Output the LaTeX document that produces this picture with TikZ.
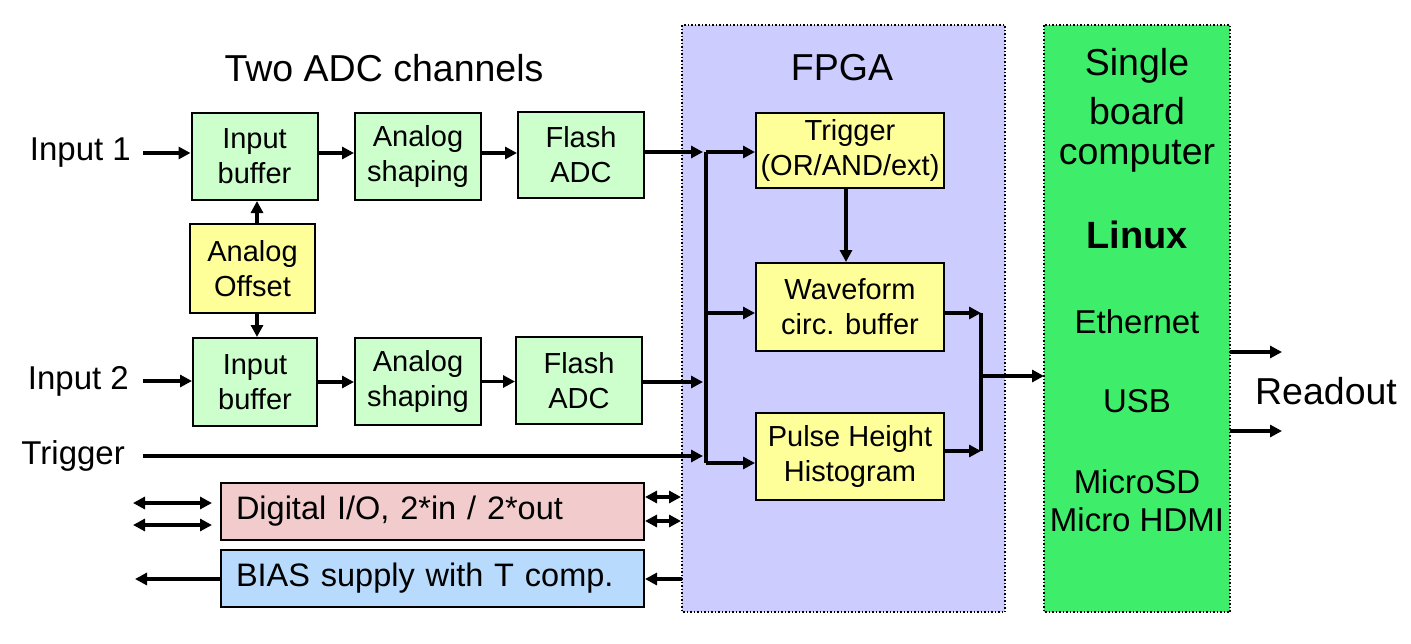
\documentclass[tikz,border=0pt]{standalone}
\usepackage{fontspec}
\setmainfont{Liberation Sans}
\usetikzlibrary{arrows.meta}
\definecolor{boxgreen}{HTML}{CCFFCC}
\definecolor{boxyellow}{HTML}{FFFF99}
\definecolor{boxpink}{HTML}{F2CCCC}
\definecolor{boxblue}{HTML}{B8DAFC}
\definecolor{fpgafill}{HTML}{CCCCFF}
\definecolor{sbcfill}{HTML}{3EEE6B}
\tikzset{
  blk/.style={draw=black, line width=2pt, align=center, inner sep=0pt,
    font=\fontsize{29}{35}\selectfont},
  gblk/.style={blk, fill=boxgreen, minimum width=126pt, minimum height=87pt},
  yblk/.style={blk, fill=boxyellow},
  wide/.style={draw=black, line width=2pt, text width=393pt, align=left,
    inner xsep=15pt, inner ysep=0pt, minimum height=57pt,
    font=\fontsize{32.5}{38}\selectfont},
  region/.style={draw=black, line width=1.5pt, dotted},
  lbl/.style={inner sep=0pt, font=\fontsize{33}{40}\selectfont},
  big/.style={inner sep=0pt, font=\fontsize{37.5}{45}\selectfont},
  mid/.style={inner sep=0pt, font=\fontsize{33}{40}\selectfont},
  arr/.style={line width=3.4pt, -{Triangle[length=12pt,width=12pt]}},
  darr/.style={line width=3.4pt, {Triangle[length=12pt,width=12pt]}-{Triangle[length=12pt,width=12pt]}},
  bus/.style={line width=3.4pt}
}
\begin{document}
\begin{tikzpicture}[x=1pt,y=-1pt]
\useasboundingbox (0,0) rectangle (1411,643);
% regions
\draw[region, fill=fpgafill] (682,25) rectangle (1005,612);
\draw[region, fill=sbcfill] (1044,25) rectangle (1230,612);
\coordinate (sbcL) at (1044,376);
\coordinate (sbcR) at (1230,376);

% titles
\node[big] (tadc) at (384,68) {Two ADC channels};
\node[big] (tfpga) at (842,68) {FPGA};
\node[big] (s1) at (1137,66) {Single};
\node[big] (s2) at (1137,111) {board};
\node[big] (s3) at (1137,156) {computer};
\node[big, font=\fontsize{38}{45}\selectfont\bfseries] (lin) at (1137,235) {Linux};
\node[mid] (eth) at (1137,322) {Ethernet};
\node[mid] (usb) at (1137,401) {USB};
\node[mid] (msd) at (1137,482) {MicroSD};
\node[mid] (hdmi) at (1137,520) {Micro HDMI};
\node[big] (rd) at (1326,391) {Readout};

% input labels
\node[lbl, anchor=east] (in1) at (131,153) {Input 1};
\node[lbl, anchor=east] (in2) at (129,381) {Input 2};
\node[lbl, anchor=east] (trgin) at (125,456) {Trigger};

% channel 1
\node[gblk] (ib1) at (254.5,156.5) {Input\\buffer};
\node[gblk] (as1) at (418,156.5) {Analog\\shaping};
\node[gblk, minimum height=86pt] (fa1) at (581,155) {Flash\\ADC};
\node[yblk, minimum width=125pt, minimum height=89pt] (ao) at (252.5,268.5) {Analog\\Offset};
% channel 2
\node[gblk, minimum width=124pt, minimum height=88pt] (ib2) at (255,382) {Input\\buffer};
\node[gblk] (as2) at (418,381.5) {Analog\\shaping};
\node[gblk] (fa2) at (579,380.5) {Flash\\ADC};

% FPGA blocks
\node[yblk, minimum width=188pt, minimum height=75pt] (trig) at (850,150.5) {Trigger\\(OR/AND/ext)};
\node[yblk, minimum width=188pt, minimum height=88pt] (wave) at (850,307) {Waveform\\circ. buffer};
\node[yblk, minimum width=188pt, minimum height=87pt] (ph) at (850,456.5) {Pulse Height\\Histogram};

% bottom blocks
\node[wide, fill=boxpink] (dio) at (432.5,511.5) {Digital I/O, 2*in / 2*out};
\node[wide, fill=boxblue] (bias) at (432.5,578.5) {BIAS supply with T comp.};

% bus coordinates
\coordinate (b1) at (706,152);
\coordinate (b2) at (706,313);
\coordinate (b3) at (706,463);
\coordinate (bin1) at (703,152);
\coordinate (bin2) at (703,382);
\coordinate (bin3) at (703,456);
\coordinate (r1) at (981,313);
\coordinate (r2) at (981,451);
\coordinate (r1a) at (981,313);
\coordinate (r2a) at (981,451);
\coordinate (rm) at (981,376);

% inputs
\coordinate (in1s) at (143,153);
\coordinate (in2s) at (143,381);
\coordinate (trgs) at (143,456);
\draw[arr] (in1s) -- (in1s -| ib1.west);
\draw[arr] (in2s) -- (in2s -| ib2.west);
\draw[arr] (trgs) -- (bin3);

% channel arrows
\coordinate (c1) at (0,153);
\draw[arr] (c1 -| ib1.east) -- (c1 -| as1.west);
\draw[arr] (c1 -| as1.east) -- (c1 -| fa1.west);
\draw[arr] (bin1 -| fa1.east) -- (bin1);
\draw[arr] (ib2.east) -- (as2.west |- ib2.east);
\draw[arr] (as2.east) -- (fa2.west |- as2.east);
\draw[arr] (bin2 -| fa2.east) -- (bin2);
\coordinate (aox) at (257,0);
\draw[arr] (aox |- ao.north) -- (aox |- ib1.south);
\draw[arr] (aox |- ao.south) -- (aox |- ib2.north);

% FPGA bus
\draw[bus] (b1) -- (b3);
\draw[arr] (b1) -- (b1 -| trig.west);
\draw[arr] (b2) -- (b2 -| wave.west);
\draw[arr] (b3) -- (b3 -| ph.west);
\coordinate (tx) at (846,0);
\draw[arr] (tx |- trig.south) -- (tx |- wave.north);

% output bus
\draw[arr] (r1 -| wave.east) -- (r1a);
\draw[arr] (r2 -| ph.east) -- (r2a);
\draw[bus] (r1) -- (r2);
\draw[arr] (rm) -- (sbcL);

% readout
\coordinate (ro1) at (1282,352);
\coordinate (ro2) at (1282,431);
\draw[arr] (ro1 -| sbcR) -- (ro1);
\draw[arr] (ro2 -| sbcR) -- (ro2);

% digital I/O
\coordinate (dl1) at (133,503);
\coordinate (dl2) at (133,525);
\coordinate (dl1e) at (212,503);
\coordinate (dl2e) at (212,525);
\coordinate (dr1) at (681,497);
\coordinate (dr2) at (681,521);
\draw[darr] (dl1) -- (dl1e);
\draw[darr] (dl2) -- (dl2e);
\draw[darr] (dr1 -| dio.east) -- (dr1);
\draw[darr] (dr2 -| dio.east) -- (dr2);

% bias
\coordinate (bl) at (135,579);
\coordinate (br) at (682,579);
\draw[arr] (bl -| bias.west) -- (bl);
\draw[arr] (br) -- (br -| bias.east);
\end{tikzpicture}
\end{document}
